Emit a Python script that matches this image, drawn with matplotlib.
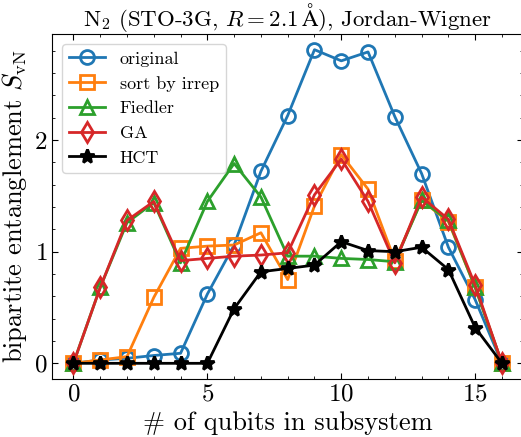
import matplotlib

matplotlib.use("Agg")
import matplotlib.pyplot as plt
import numpy as np

plt.rcParams["font.family"] = "serif"
plt.rcParams["font.serif"] = ["cmr10"]
plt.rcParams["mathtext.fontset"] = "cm"
plt.rcParams["axes.formatter.use_mathtext"] = True
plt.rcParams["xtick.direction"] = "in"
plt.rcParams["ytick.direction"] = "in"
plt.rcParams["xtick.top"] = True
plt.rcParams["ytick.right"] = True

n_qubits = np.arange(17)

original = [0.0, 0.03, 0.045, 0.07, 0.09, 0.62, 1.06, 1.72, 2.22, 2.81, 2.71, 2.79,
            2.21, 1.70, 1.04, 0.57, 0.0]
sort_by_irrep = [0.0, 0.03, 0.06, 0.59, 1.03, 1.05, 1.06, 1.17, 0.75, 1.41, 1.87, 1.56,
                 0.92, 1.46, 1.27, 0.68, 0.0]
fiedler = [0.0, 0.68, 1.26, 1.44, 0.90, 1.45, 1.79, 1.49, 0.96, 0.96, 0.94, 0.93,
           0.91, 1.46, 1.28, 0.68, 0.0]
ga = [0.0, 0.68, 1.28, 1.45, 0.92, 0.94, 0.96, 0.97, 0.99, 1.51, 1.83, 1.45,
      0.90, 1.49, 1.29, 0.70, 0.0]
hct = [0.0, 0.0, 0.0, 0.0, 0.0, 0.0, 0.49, 0.82, 0.85, 0.88, 1.09, 1.01,
       1.00, 1.04, 0.84, 0.32, 0.0]

series = [
    ("original", original, "#1f77b4", "o"),
    ("sort by irrep", sort_by_irrep, "#ff7f0e", "s"),
    ("Fiedler", fiedler, "#2ca02c", "^"),
    ("GA", ga, "#d62728", "d"),
    ("HCT", hct, "black", "*"),
]

fig = plt.figure(figsize=(5.21, 4.37), dpi=100)
# axes box in pixels: left 52, right ~523 (just past the edge), top 34, bottom 379
ax = fig.add_axes([52 / 521, 1 - 379 / 437, (523.4 - 52) / 521, (379 - 34) / 437])

for label, values, color, marker in series:
    face = color if marker == "*" else "none"
    ax.plot(n_qubits, values, color=color, marker=marker, markersize=10,
            markerfacecolor=face, markeredgewidth=2, linewidth=2, label=label)

ax.set_xticks([0, 5, 10, 15])
ax.set_yticks([0, 1, 2])
ax.xaxis.set_minor_locator(matplotlib.ticker.MultipleLocator(1))
ax.yaxis.set_minor_locator(matplotlib.ticker.MultipleLocator(0.2))
ax.tick_params(which="major", labelsize=18, length=4)
ax.tick_params(which="minor", length=2)

ax.set_xlabel("# of qubits in subsystem", fontsize=19)
ax.set_ylabel(r"bipartite entanglement $S_{\rm vN}$", fontsize=19, labelpad=3)
ax.set_title(r"N$_2$ (STO-3G, $R = 2.1\,\mathrm{\AA}$), Jordan-Wigner", fontsize=16.5, pad=2)

ax.legend(loc="upper left", fontsize=13, handlelength=2.0, borderaxespad=0.55,
          fancybox=True, framealpha=0.8)

fig.savefig("out.png", dpi=100)
